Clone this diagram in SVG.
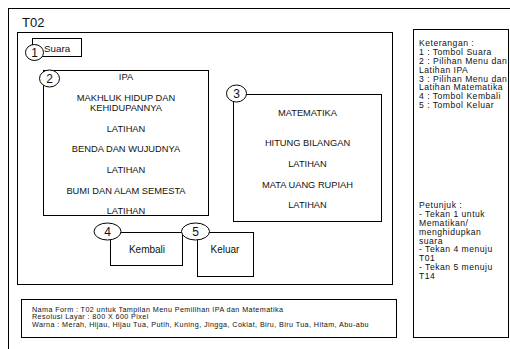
<svg xmlns="http://www.w3.org/2000/svg" width="510" height="349" viewBox="0 0 510 349">
<style>
.box{fill:#fff;stroke:#000;stroke-width:1}
.frame{fill:none;stroke:#000;stroke-width:1}
.num{fill:#fff;stroke:#000;stroke-width:1}
text{font-family:"Liberation Sans",Arial,sans-serif;fill:#111}
.n{font-size:12px;text-anchor:middle}
.m{font-size:9.3px;text-anchor:middle}
.b{font-size:10px;text-anchor:middle}
.r{font-size:8.6px;letter-spacing:0.5px}
.f{font-size:7.2px;letter-spacing:0.4px}
</style>
<rect width="510" height="349" fill="#fff"/>
<g id="screen">
<rect class="frame" x="8.5" y="8.5" width="510" height="350"/>
<text x="22" y="27" font-size="13">T02</text>
<rect class="frame" x="17.5" y="32.5" width="375" height="252"/>
</g>
<g id="suara">
<rect class="box" x="32.5" y="38.5" width="49" height="18"/>
<text x="44" y="51.5" font-size="9.8">Suara</text>
<ellipse class="num" cx="34.5" cy="52.5" rx="9" ry="8"/>
<text class="n" x="34.5" y="56.8">1</text>
</g>
<g id="ipa">
<rect class="box" x="43.5" y="70.5" width="165" height="145"/>
<ellipse class="num" cx="49.5" cy="78.5" rx="10" ry="8.5"/>
<text class="n" x="49.5" y="82.8">2</text>
<text class="m" x="126" y="79.5">IPA</text>
<text class="m" x="126" y="100.5">MAKHLUK HIDUP DAN</text>
<text class="m" x="126" y="110.5">KEHIDUPANNYA</text>
<text class="m" x="126" y="131.5">LATIHAN</text>
<text class="m" x="126" y="151.5">BENDA DAN WUJUDNYA</text>
<text class="m" x="126" y="172.5">LATIHAN</text>
<text class="m" x="126" y="193.5">BUMI DAN ALAM SEMESTA</text>
<text class="m" x="126" y="213.5">LATIHAN</text>
</g>
<g id="matematika">
<rect class="box" x="233.5" y="94.5" width="148" height="127"/>
<ellipse class="num" cx="236.5" cy="93.5" rx="10" ry="8.5"/>
<text class="n" x="236.5" y="97.8">3</text>
<text class="m" x="307.5" y="115.5">MATEMATIKA</text>
<text class="m" x="307.5" y="145.5">HITUNG BILANGAN</text>
<text class="m" x="307.5" y="166.5">LATIHAN</text>
<text class="m" x="307.5" y="187.5">MATA UANG RUPIAH</text>
<text class="m" x="307.5" y="207.5">LATIHAN</text>
</g>
<g id="kembali">
<rect class="box" x="110.5" y="232.5" width="72" height="33"/>
<ellipse class="num" cx="107.5" cy="231.5" rx="13.5" ry="8.5"/>
<text class="n" x="107.5" y="235.8">4</text>
<text class="b" x="147" y="252.5">Kembali</text>
</g>
<g id="keluar">
<rect class="box" x="197.5" y="232.5" width="56" height="44"/>
<ellipse class="num" cx="195.5" cy="231.5" rx="14" ry="8.5"/>
<text class="n" x="195.5" y="235.8">5</text>
<text class="b" x="225" y="252.5">Keluar</text>
</g>
<g id="keterangan">
<rect class="box" x="413.5" y="29.5" width="95" height="308"/>
<text class="r" x="419" y="46.3">Keterangan :</text>
<text class="r" x="419" y="55.1">1 : Tombol  Suara</text>
<text class="r" x="419" y="63.9">2 : Pilihan Menu dan</text>
<text class="r" x="419" y="72.7">Latihan IPA</text>
<text class="r" x="419" y="81.5">3 : Pilihan Menu dan</text>
<text class="r" x="419" y="90.3">Latihan Matematika</text>
<text class="r" x="419" y="99.1">4 : Tombol Kembali</text>
<text class="r" x="419" y="107.9">5 : Tombol Keluar</text>
<text class="r" x="419" y="208.3">Petunjuk :</text>
<text class="r" x="419" y="217.1">- Tekan 1 untuk</text>
<text class="r" x="419" y="225.9">Mematikan/</text>
<text class="r" x="419" y="234.7">menghidupkan</text>
<text class="r" x="419" y="243.5">suara</text>
<text class="r" x="419" y="252.3">- Tekan 4 menuju</text>
<text class="r" x="419" y="261.1">T01</text>
<text class="r" x="419" y="269.9">- Tekan 5 menuju</text>
<text class="r" x="419" y="278.7">T14</text>
</g>
<g id="info">
<rect class="box" x="21.5" y="299.5" width="375" height="38"/>
<text class="f" x="32" y="311.6">Nama Form : T02 untuk Tampilan Menu Pemilihan IPA dan Matematika</text>
<text class="f" x="32" y="319.4">Resolusi Layar : 800 X 600 Pixel</text>
<text class="f" x="32" y="327.2">Warna : Merah, Hijau, Hijau Tua, Putih, Kuning, Jingga, Coklat, Biru, Biru Tua, Hitam, Abu-abu</text>
</g>
<g id="connectors"></g>
</svg>
